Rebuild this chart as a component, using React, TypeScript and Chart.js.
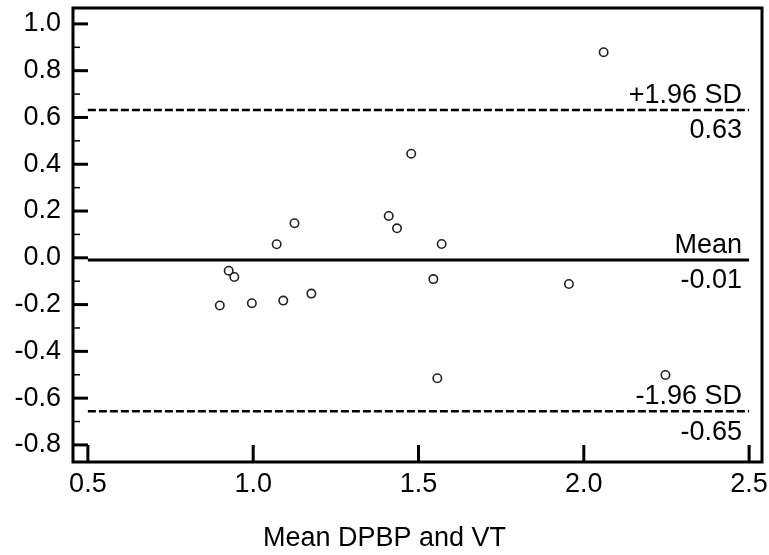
import React, { useEffect, useRef } from "react";
import { Chart, registerables } from "chart.js";

Chart.register(...registerables);

// ---- data ----
const xValues = [0.899, 0.926, 0.943, 0.996, 1.071, 1.091, 1.125, 1.176, 1.41, 1.435, 1.478, 1.545, 1.557, 1.57, 1.955, 2.06, 2.247];
const yValues = [-0.204, -0.055, -0.082, -0.194, 0.058, -0.183, 0.148, -0.153, 0.179, 0.126, 0.445, -0.091, -0.515, 0.059, -0.112, 0.879, -0.501];
const xTicks = [0.5, 1.0, 1.5, 2.0, 2.5];
const yTicks = [-0.8, -0.6, -0.4, -0.2, 0, 0.2, 0.4, 0.6, 0.8, 1.0];
const yMinorTicks = [-0.7, -0.5, -0.3, -0.1, 0.1, 0.3, 0.5, 0.7, 0.9];
const limitValues = [0.632, -0.009, -0.656];
const limitNames = ["+1.96 SD", "Mean", "-1.96 SD"];
const limitValueLabels = ["0.63", "-0.01", "-0.65"];
const limitDashed = [true, false, true];
const xTitle = "Mean DPBP and VT";

const FONT = "'Liberation Sans', Arial, Helvetica, sans-serif";
const FS = 27;

const zeroPad = (s: any) => {
  s.paddingTop = 0;
  s.paddingBottom = 0;
  s.paddingLeft = 0;
  s.paddingRight = 0;
};

const decorPlugin = {
  id: "decor",
  afterDatasetsDraw(chart: any) {
    const { ctx, chartArea: a, scales } = chart;
    const xs = scales.x;
    const ys = scales.y;
    ctx.save();
    ctx.strokeStyle = "#000";
    ctx.lineCap = "butt";
    // frame
    ctx.lineWidth = 3;
    ctx.strokeRect(a.left, a.top, a.right - a.left, a.bottom - a.top);
    // y major ticks (inward)
    yTicks.forEach((v) => {
      const p = ys.getPixelForValue(v);
      ctx.beginPath();
      ctx.moveTo(a.left, p);
      ctx.lineTo(a.left + 15, p);
      ctx.stroke();
    });
    // y minor ticks
    ctx.lineWidth = 1.5;
    yMinorTicks.forEach((v) => {
      const p = ys.getPixelForValue(v);
      ctx.beginPath();
      ctx.moveTo(a.left, p);
      ctx.lineTo(a.left + 7, p);
      ctx.stroke();
    });
    // x major ticks (inward)
    ctx.lineWidth = 3;
    xTicks.forEach((v) => {
      const p = xs.getPixelForValue(v);
      ctx.beginPath();
      ctx.moveTo(p, a.bottom);
      ctx.lineTo(p, a.bottom - 17);
      ctx.stroke();
    });
    // limit labels
    ctx.font = `${FS}px ${FONT}`;
    ctx.fillStyle = "#000";
    ctx.textAlign = "right";
    ctx.textBaseline = "alphabetic";
    const xr = xs.getPixelForValue(xTicks[xTicks.length - 1]) - 7;
    limitValues.forEach((v, i) => {
      const p = ys.getPixelForValue(v);
      ctx.fillText(limitNames[i], xr, p - 7);
      ctx.fillText(limitValueLabels[i], xr, p + 28.5);
    });
    ctx.restore();
  },
};

export default function App() {
  const ref = useRef<HTMLCanvasElement | null>(null);

  useEffect(() => {
    if (!ref.current) return;
    const lineSets = limitValues.map((v, i) => ({
      type: "scatter" as const,
      data: [
        { x: xTicks[0], y: v },
        { x: xTicks[xTicks.length - 1], y: v },
      ],
      showLine: true,
      borderColor: "#000",
      borderWidth: limitDashed[i] ? 2.5 : 3,
      borderDash: limitDashed[i] ? [8, 3] : [],
      pointRadius: 0,
      pointHoverRadius: 0,
      fill: false,
    }));
    const chart = new Chart(ref.current, {
      type: "scatter",
      data: {
        datasets: [
          ...lineSets,
          {
            type: "scatter",
            data: xValues.map((x, i) => ({ x, y: yValues[i] })),
            pointRadius: 4.2,
            pointHoverRadius: 4.2,
            pointBorderWidth: 1.6,
            borderColor: "#222",
            backgroundColor: "rgba(0,0,0,0)",
            pointBackgroundColor: "rgba(0,0,0,0)",
            pointBorderColor: "#222",
          } as any,
        ],
      },
      options: {
        responsive: false,
        maintainAspectRatio: false,
        animation: false,
        devicePixelRatio: 1,
        layout: { padding: { top: 8, right: 0, left: 0, bottom: 0 } },
        plugins: {
          legend: { display: false },
          tooltip: { enabled: false },
          title: {
            display: true,
            position: "bottom",
            text: xTitle,
            color: "#000",
            font: { family: FONT, size: FS, weight: "normal" as any, lineHeight: 1.2 },
            padding: { top: 4, bottom: 0 },
          },
        },
        scales: {
          x: {
            type: "linear",
            min: 0.455,
            max: 2.539,
            afterBuildTicks: (s: any) => {
              s.ticks = xTicks.map((v) => ({ value: v }));
            },
            afterFit: (s: any) => {
              s.height = 555 - (FS * 1.2 + 4) - 462;
              zeroPad(s);
            },
            grid: { display: false, drawTicks: false },
            border: { display: false },
            ticks: {
              color: "#000",
              padding: 6,
              maxRotation: 0,
              autoSkip: false,
              font: { family: FONT, size: FS },
              callback: (v: any) => Number(v).toFixed(1),
            },
          },
          y: {
            type: "linear",
            min: -0.873,
            max: 1.068,
            afterBuildTicks: (s: any) => {
              s.ticks = yTicks.map((v) => ({ value: v }));
            },
            afterFit: (s: any) => {
              s.width = 73;
              zeroPad(s);
            },
            grid: { display: false, drawTicks: false },
            border: { display: false },
            ticks: {
              color: "#000",
              padding: 12,
              autoSkip: false,
              font: { family: FONT, size: FS },
              callback: (v: any) => Number(v).toFixed(1),
            },
          },
          y2: {
            type: "linear",
            position: "right",
            display: true,
            grid: { display: false, drawTicks: false },
            border: { display: false },
            ticks: { display: false },
            afterFit: (s: any) => {
              s.width = 7;
              zeroPad(s);
            },
          },
        },
      },
      plugins: [decorPlugin],
    });
    return () => chart.destroy();
  }, []);

  return (
    <div style={{ position: "fixed", left: 0, top: 0, width: 769, height: 555, background: "#fff" }}>
      <canvas ref={ref} width={769} height={555} style={{ width: 769, height: 555, display: "block" }} />
    </div>
  );
}
